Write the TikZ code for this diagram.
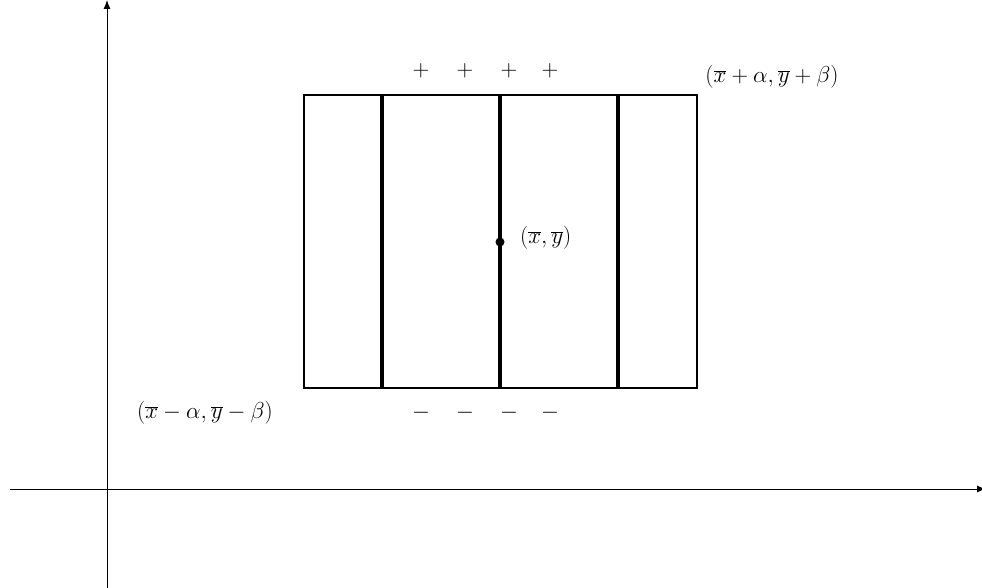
\documentclass[tikz,border=0pt]{standalone}
\usetikzlibrary{arrows.meta}
\begin{document}
\begin{tikzpicture}[x=1pt,y=-1pt,
  axis/.style={line width=1pt,-{Latex[length=9pt,width=7pt]}},
  thinline/.style={line width=1.4pt},
  thickline/.style={line width=3.4pt},
  lbl/.style={inner sep=0pt,font=\huge,scale=1.11}]
\useasboundingbox (0,0) rectangle (982,588);
% axes
\coordinate (xs) at (10,489);
\coordinate (xe) at (986,489);
\coordinate (ys) at (107,588);
\coordinate (ye) at (107,0);
\draw[axis] (xs) -- (xe);
\draw[axis] (ys) -- (ye);
% rectangle
\coordinate (bl) at (304,388);
\coordinate (tr) at (697,95);
\draw[thinline] (bl) rectangle (tr);
\foreach \x/\n in {382/a,500/b,618/c}{
  \coordinate (\n t) at (\x,95);
  \coordinate (\n b) at (\x,388);
  \draw[thickline] (\n t) -- (\n b);
}
% center
\coordinate (ctr) at (500,242);
\fill (ctr) circle (4.5);
\node[lbl,anchor=west] (clab) at (520,238) {$(\overline{x},\overline{y})$};
\node[lbl] (trlab) at (772,77) {$(\overline{x}+\alpha,\overline{y}+\beta)$};
\node[lbl] (bllab) at (205,413) {$(\overline{x}-\alpha,\overline{y}-\beta)$};
\foreach \x [count=\i] in {421,465,509,550}{
  \node[lbl] (p\i) at (\x,71) {$+$};
  \node[lbl] (m\i) at (\x,413) {$-$};
}
\end{tikzpicture}
\end{document}
